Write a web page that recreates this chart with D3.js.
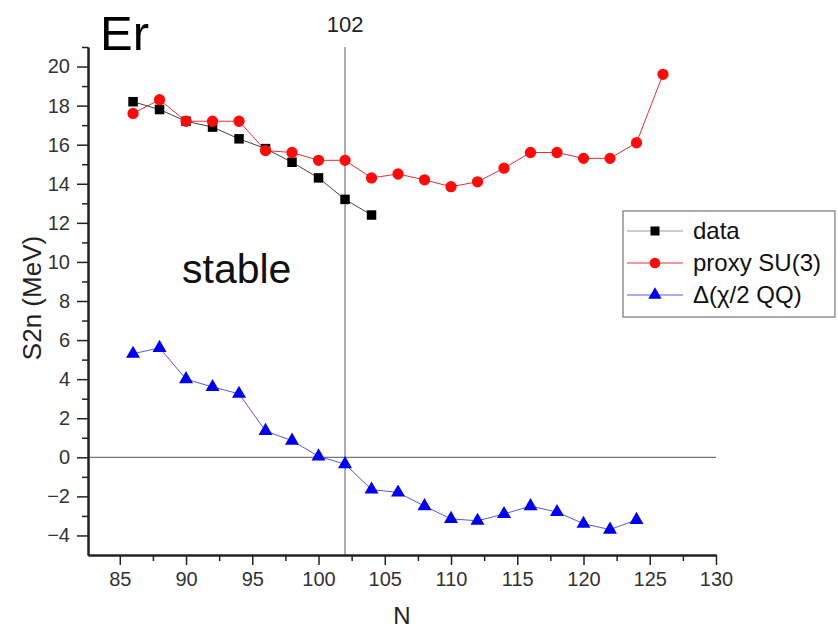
<!DOCTYPE html>
<html>
<head>
<meta charset="UTF-8"/>
<script src="https://cdn.jsdelivr.net/npm/d3@7"></script>
<style>
body { margin: 0; background: white; }
svg { font-family: "Liberation Sans", Arial, sans-serif; }
</style>
</head>
<body>
<div id="chart"></div>
<script>
// data
var dataN = [86, 88, 90, 92, 94, 96, 98, 100, 102, 104];
var dataS2n = [18.2, 17.8, 17.2, 16.9, 16.3, 15.8, 15.1, 14.3, 13.2, 12.4];

var proxyN = [86, 88, 90, 92, 94, 96, 98, 100, 102, 104, 106, 108, 110, 112, 114, 116, 118, 120, 122, 124, 126];
var proxyS2n = [17.6, 18.3, 17.2, 17.2, 17.2, 15.7, 15.6, 15.2, 15.2, 14.3, 14.5, 14.2, 13.85, 14.1, 14.8, 15.6, 15.6, 15.3, 15.3, 16.1, 19.6];

var deltaN = [86, 88, 90, 92, 94, 96, 98, 100, 102, 104, 106, 108, 110, 112, 114, 116, 118, 120, 122, 124];
var deltaS2n = [5.3, 5.6, 4.0, 3.6, 3.25, 1.35, 0.85, 0.05, -0.35, -1.65, -1.8, -2.5, -3.15, -3.25, -2.9, -2.5, -2.8, -3.4, -3.7, -3.2];

var xMajor = [85, 90, 95, 100, 105, 110, 115, 120, 125, 130];
var yMajor = [-4, -2, 0, 2, 4, 6, 8, 10, 12, 14, 16, 18, 20];

var legendLabels = ["data", "proxy SU(3)", "\u0394(\u03c7/2 QQ)"];

var W = 838, H = 631;
var svg = d3.select("#chart").append("svg")
	.attr("width", W)
	.attr("height", H);

var x = d3.scaleLinear().domain([82.6, 130]).range([88, 716]);
var y = d3.scaleLinear().domain([-5, 21]).range([555, 47]);

// reference lines
svg.append("line")
	.attr("x1", x(102)).attr("x2", x(102))
	.attr("y1", y(21)).attr("y2", y(-5))
	.attr("stroke", "#777").attr("stroke-width", 1.2);
svg.append("line")
	.attr("x1", x(82.6)).attr("x2", x(130))
	.attr("y1", y(0)).attr("y2", y(0))
	.attr("stroke", "#777").attr("stroke-width", 1.2);

// axes
var xMinor = d3.range(87.5, 130, 5);
var yMinor = d3.range(-3, 22, 2);

function styleAxis(g) {
	g.select(".domain").attr("stroke", "#222").attr("stroke-width", 2);
	g.selectAll(".tick line").attr("stroke", "#222").attr("stroke-width", 1.5);
	g.selectAll(".tick text").attr("fill", "#333").attr("font-size", 20)
		.attr("font-family", "Liberation Sans, Arial, sans-serif");
}

svg.append("g")
	.attr("transform", "translate(0," + y(-5) + ")")
	.call(d3.axisBottom(x).tickValues(xMinor).tickSize(6).tickFormat("").tickSizeOuter(0))
	.call(styleAxis);
svg.append("g")
	.attr("transform", "translate(0," + y(-5) + ")")
	.call(d3.axisBottom(x).tickValues(xMajor).tickSize(10).tickPadding(7).tickSizeOuter(0))
	.call(styleAxis);

svg.append("g")
	.attr("transform", "translate(" + x(82.6) + ",0)")
	.call(d3.axisLeft(y).tickValues(yMinor).tickSize(6).tickFormat("").tickSizeOuter(0))
	.call(styleAxis);
svg.append("g")
	.attr("transform", "translate(" + x(82.6) + ",0)")
	.call(d3.axisLeft(y).tickValues(yMajor).tickSize(11).tickPadding(7).tickSizeOuter(0))
	.call(styleAxis);

// series
var series = [
	{ n: dataN, v: dataS2n, line: "#444", fill: "#000", sym: d3.symbolSquare, size: 90 },
	{ n: proxyN, v: proxyS2n, line: "#e83030", fill: "#ff0a0a", sym: d3.symbolCircle, size: 100 },
	{ n: deltaN, v: deltaS2n, line: "#5a5ad8", fill: "#0000ee", sym: d3.symbolTriangle, size: 85 }
];

var line = d3.line().x(function(d) { return x(d[0]); }).y(function(d) { return y(d[1]); });

series.forEach(function(s) {
	var pts = s.n.map(function(n, i) { return [n, s.v[i]]; });
	svg.append("path")
		.attr("d", line(pts))
		.attr("fill", "none")
		.attr("stroke", s.line)
		.attr("stroke-width", 1);
	svg.selectAll(null).data(pts).enter().append("path")
		.attr("d", d3.symbol().type(s.sym).size(s.size))
		.attr("transform", function(d) { return "translate(" + x(d[0]) + "," + y(d[1]) + ")"; })
		.attr("fill", s.fill);
});

// texts
svg.append("text").attr("x", 100).attr("y", 50)
	.attr("font-size", 49).attr("fill", "#000").text("Er");
svg.append("text").attr("x", x(102)).attr("y", 32)
	.attr("text-anchor", "middle").attr("font-size", 22).attr("fill", "#222").text("102");
svg.append("text").attr("x", 182).attr("y", 283)
	.attr("font-size", 41).attr("fill", "#111").text("stable");
svg.append("text").attr("x", (x(82.6) + x(130)) / 2).attr("y", 624)
	.attr("text-anchor", "middle").attr("font-size", 24).attr("fill", "#222").text("N");
svg.append("text")
	.attr("transform", "translate(41," + 298 + ") rotate(-90)")
	.attr("text-anchor", "middle").attr("font-size", 26).attr("fill", "#222").text("S2n (MeV)");

// legend
var lg = svg.append("g").attr("transform", "translate(623,211)");
lg.append("rect").attr("width", 212).attr("height", 106)
	.attr("fill", "white").attr("stroke", "#777").attr("stroke-width", 1.2);
legendLabels.forEach(function(lab, i) {
	var s = series[i];
	var cy = 20 + i * 32;
	lg.append("line").attr("x1", 4).attr("x2", 60).attr("y1", cy).attr("y2", cy)
		.attr("stroke", i === 0 ? "#999" : s.line).attr("stroke-width", 1);
	lg.append("path")
		.attr("d", d3.symbol().type(s.sym).size(s.size * 0.9))
		.attr("transform", "translate(32," + cy + ")")
		.attr("fill", s.fill);
	lg.append("text").attr("x", 70).attr("y", cy + 8)
		.attr("font-size", 24).attr("fill", "#111").text(lab);
});
</script>
</body>
</html>
